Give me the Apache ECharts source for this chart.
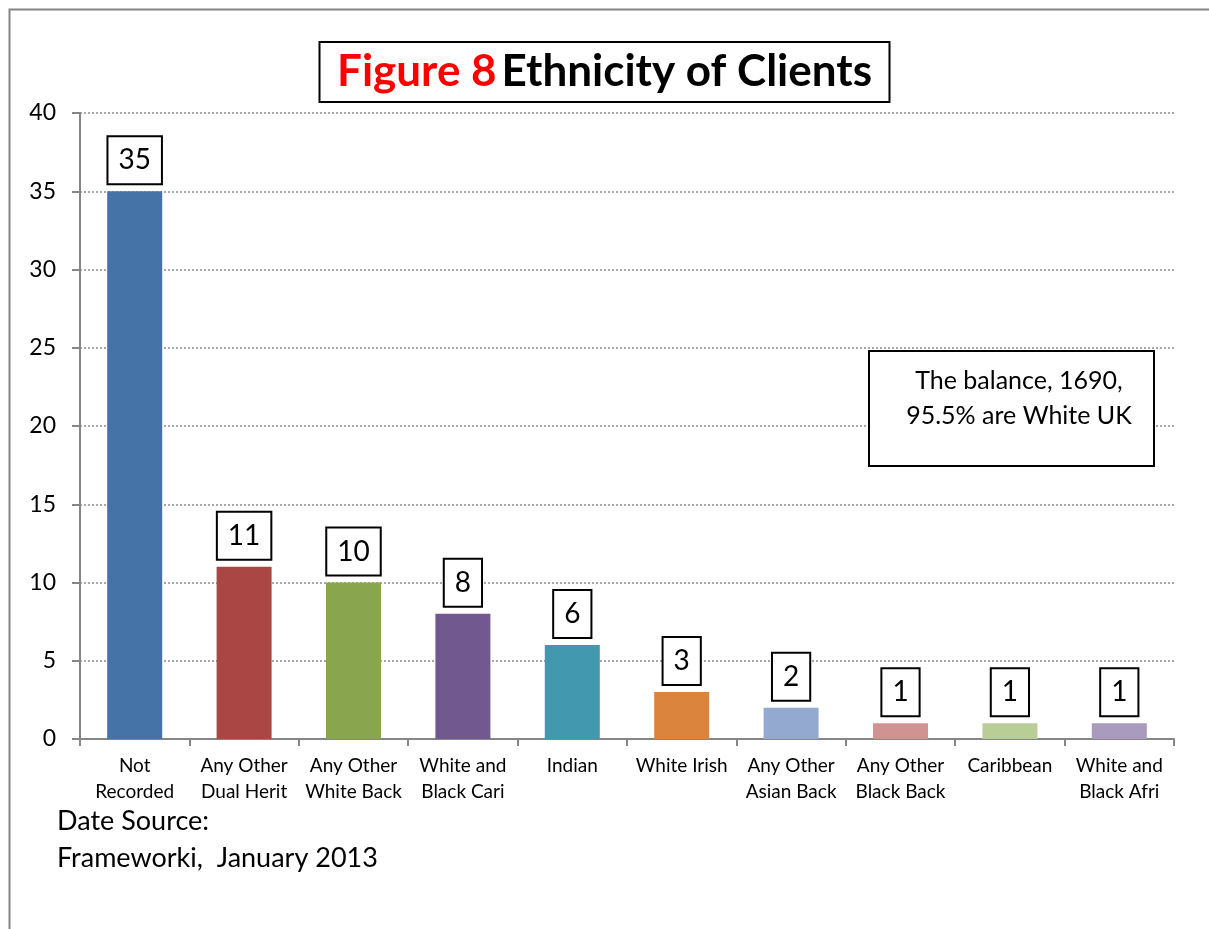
<!DOCTYPE html>
<html><head><meta charset="utf-8">
<script src="https://cdn.jsdelivr.net/npm/echarts@6/dist/echarts.min.js"></script>
<style>html,body{margin:0;padding:0;background:#fff}#c{width:1209px;height:929px}</style>
</head><body><div id="c"></div>
<script>
const categories = ['Not\nRecorded','Any Other\nDual Herit','Any Other\nWhite Back','White and\nBlack Cari','Indian','White Irish','Any Other\nAsian Back','Any Other\nBlack Back','Caribbean','White and\nBlack Afri'];
const values = [35, 11, 10, 8, 6, 3, 2, 1, 1, 1];
const colors = ['#4572A7','#AA4643','#89A54E','#71588F','#4198AF','#DB843D','#93A9CF','#D19392','#B9CD96','#A99BBD'];
const yTicks = [0, 5, 10, 15, 20, 25, 30, 35, 40];
const FONT = 'Lato, "Open Sans", sans-serif';

const chart = echarts.init(document.getElementById('c'), null, {renderer:'canvas'});
chart.setOption({
  backgroundColor:'#fff',
  animation:false,
  title:{
    text:'{r|Figure 8} {b|Ethnicity of Clients}',
    left:'center', top:39,
    borderColor:'#000', borderWidth:2,
    padding:[8,18,8,18],
    textStyle:{ rich:{
      r:{color:'#ff0000', fontSize:44, fontWeight:'bold', fontFamily:FONT, lineHeight:50},
      b:{color:'#000', fontSize:44, fontWeight:'bold', fontFamily:FONT, lineHeight:50}
    }}
  },
  grid:{left:80, right:35, top:113, bottom:190, containLabel:false},
  xAxis:{
    type:'category', data:categories,
    axisLine:{lineStyle:{color:'#868686', width:2}},
    axisTick:{show:true, alignWithLabel:false, length:7, lineStyle:{color:'#868686', width:2}},
    axisLabel:{color:'#000', fontSize:19, lineHeight:26, fontFamily:FONT, margin:14, interval:0}
  },
  yAxis:{
    type:'value', min:0, max:40, interval:5,
    axisLine:{show:true, lineStyle:{color:'#868686', width:2}},
    axisTick:{show:true, length:8, lineStyle:{color:'#868686', width:2}},
    axisLabel:{color:'#000', fontSize:23, fontFamily:FONT, margin:24,
      formatter:v => yTicks.includes(v) ? String(v) : ''},
    splitLine:{show:true, lineStyle:{color:'#8c8c8c', type:[2,2], width:1.5}}
  },
  series:[{
    type:'bar', data:values, barWidth:55,
    itemStyle:{color: p => colors[p.dataIndex]},
    label:{show:true, position:'top', distance:8, color:'#000', fontSize:28, fontFamily:FONT,
      borderColor:'#000', borderWidth:2, padding:[8,10,8,10], backgroundColor:'#fff', lineHeight:30}
  }],
  graphic:[
    {type:'rect', left:7, top:7, shape:{width:1230, height:960}, style:{fill:'none', stroke:'#868686', lineWidth:2}, silent:true},
    {type:'rect', left:868, top:350, shape:{width:285, height:115}, style:{fill:'#fff', stroke:'#000', lineWidth:2}, z:10},
    {type:'text', z:11,
      style:{x:1019, y:363, text:'The balance, 1690,\n95.5% are White UK', fill:'#000', font:'25px '+FONT, lineHeight:35, textAlign:'center', textVerticalAlign:'top'}},
    {type:'text', left:57, top:803, style:{text:'Date Source:\nFrameworki,  January 2013', fill:'#000', font:'27px '+FONT, lineHeight:37}}
  ]
});
</script></body></html>
